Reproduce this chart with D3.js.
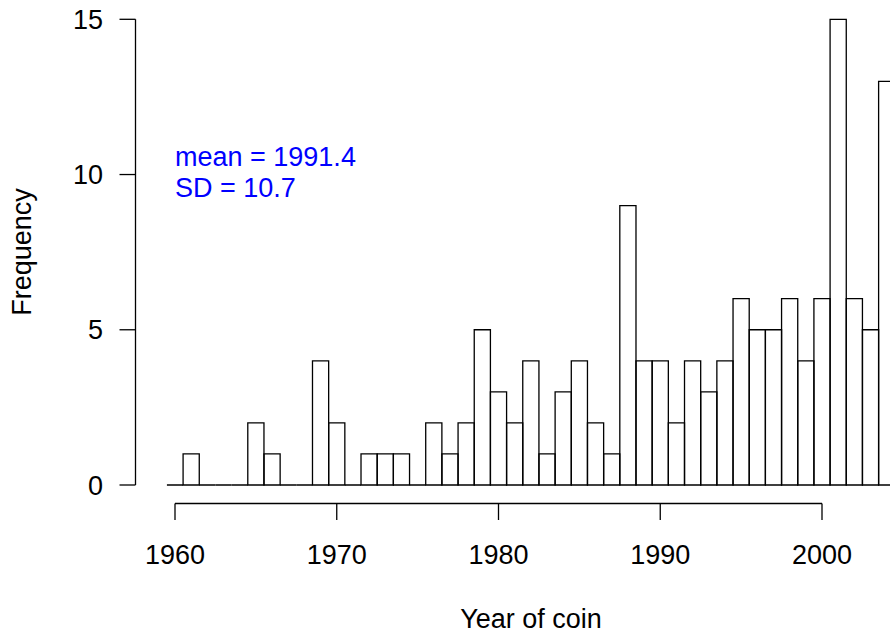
<!DOCTYPE html>
<html><head><meta charset="utf-8">
<script src="https://cdn.jsdelivr.net/npm/d3@7"></script>
<style>
html,body{margin:0;padding:0;background:#fff;overflow:hidden;}
svg{display:block;font-family:"Liberation Sans",Arial,sans-serif;}
</style></head>
<body>
<svg id="chart" width="890" height="635"></svg>
<script>
const years = d3.range(1960, 2005);
const counts = [0,1,0,0,0,2,1,0,0,4,2,0,1,1,1,0,2,1,2,5,3,2,4,1,3,4,2,1,9,4,4,2,4,3,4,6,5,5,6,4,6,15,6,5,13];
const xTicks = [1960,1970,1980,1990,2000];
const yTicks = [0,5,10,15];
const statLines = ["mean = 1991.4", "SD = 10.7"];
const xLabel = "Year of coin";
const yLabel = "Frequency";

const svg = d3.select("#chart");
const x = d3.scaleLinear().domain([1960, 2000]).range([175, 822]);
const y = d3.scaleLinear().domain([0, 15]).range([485, 19.3]);
const fs = 27;
const data = years.map((yr,i)=>({yr, c:counts[i]}));

// bars (R-style: each bin is a closed outline; empty bins collapse to a line)
svg.append("g").selectAll("path").data(data)
  .join("path")
  .attr("d", d => {
    const x0 = x(d.yr - 0.5), x1 = x(d.yr + 0.5), y0 = y(0), y1 = y(d.c);
    const p = d3.path();
    p.moveTo(x0, y0); p.lineTo(x1, y0); p.lineTo(x1, y1); p.lineTo(x0, y1); p.closePath();
    return p.toString();
  })
  .attr("fill", "none")
  .attr("stroke", "#000")
  .attr("stroke-width", 1.3);

// x axis
const xAxisY = 503.5;
const gx = svg.append("g");
gx.append("line").attr("x1", x(1960)).attr("x2", x(2000)).attr("y1", xAxisY).attr("y2", xAxisY)
  .attr("stroke","#000").attr("stroke-width",1.3);
gx.selectAll(".tk").data(xTicks).join("line")
  .attr("x1", d=>x(d)).attr("x2", d=>x(d)).attr("y1", xAxisY).attr("y2", xAxisY+16.5)
  .attr("stroke","#000").attr("stroke-width",1.3);
gx.selectAll("text").data(xTicks).join("text")
  .attr("x", d=>x(d)).attr("y", 564).attr("text-anchor","middle")
  .attr("font-size", fs).attr("fill","#000").text(d=>d);

// y axis
const yAxisX = 135.5;
const gy = svg.append("g");
gy.append("line").attr("x1", yAxisX).attr("x2", yAxisX).attr("y1", y(0)).attr("y2", y(15))
  .attr("stroke","#000").attr("stroke-width",1.3);
gy.selectAll(".tk").data(yTicks).join("line")
  .attr("x1", yAxisX).attr("x2", yAxisX-16).attr("y1", d=>y(d)).attr("y2", d=>y(d))
  .attr("stroke","#000").attr("stroke-width",1.3);
gy.selectAll("text").data(yTicks).join("text")
  .attr("x", 103).attr("y", d=>y(d)+9.5).attr("text-anchor","end")
  .attr("font-size", fs).attr("fill","#000").text(d=>d);

// labels
svg.append("text").attr("x", 531).attr("y", 628).attr("text-anchor","middle")
  .attr("font-size", fs).attr("fill","#000").text(xLabel);
svg.append("text").attr("transform","translate(31,252) rotate(-90)").attr("text-anchor","middle")
  .attr("font-size", fs).attr("fill","#000").text(yLabel);

// stats
svg.selectAll(".stat").data(statLines).join("text")
  .attr("x", x(1960)).attr("y", (d,i)=>166 + i*31)
  .attr("font-size", fs).attr("fill","#0000ff").text(d=>d);
</script>
</body></html>
